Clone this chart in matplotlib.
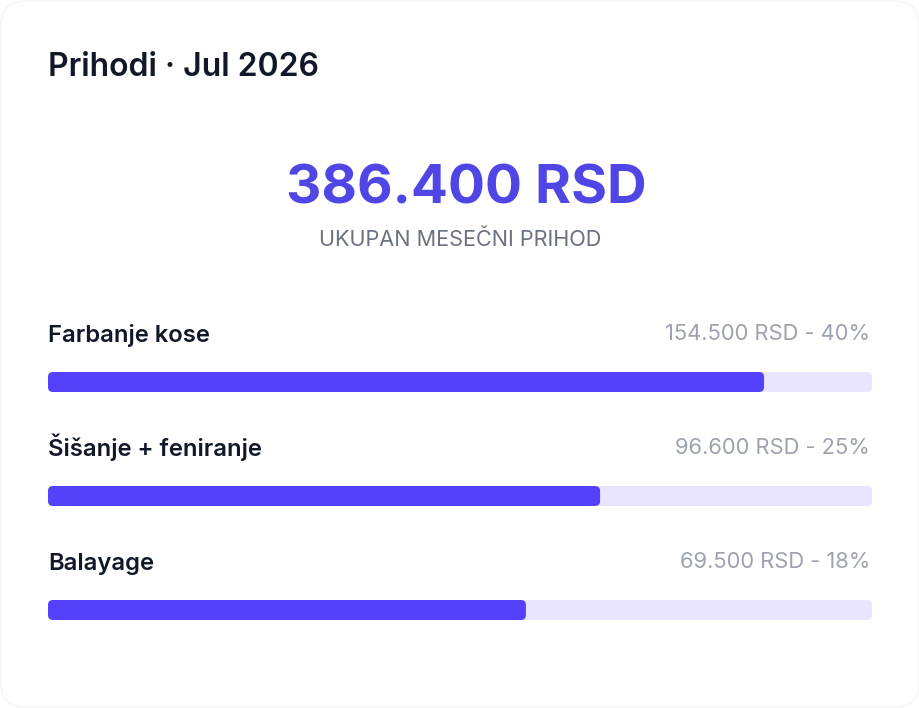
import matplotlib
matplotlib.use("Agg")
import matplotlib.pyplot as plt
from matplotlib.patches import FancyBboxPatch

# ---- data ----
title = "Prihodi · Jul 2026"
total_value = "386.400 RSD"
total_label = "UKUPAN MESEČNI PRIHOD"
categories = ["Farbanje kose", "Šišanje + feniranje", "Balayage"]
amounts = ["154.500 RSD", "96.600 RSD", "69.500 RSD"]
percents = [40, 25, 18]
fill_fractions = [0.869, 0.670, 0.580]   # bar fill

# ---- style ----
W, H = 920, 708
FONT = ["Inter", "DejaVu Sans"]
C_DARK = "#111827"
C_ACCENT = "#4F46E5"
C_SUB = "#6B7280"
C_VAL = "#9CA3AF"
C_FILL = "#5541F9"
C_TRACK = "#E9E5FE"

fig = plt.figure(figsize=(W / 100, H / 100), dpi=100)
fig.patch.set_facecolor("white")
ax = fig.add_axes([0, 0, 1, 1])
ax.set_xlim(0, W)
ax.set_ylim(H, 0)
ax.axis("off")

# card
card = FancyBboxPatch((1, 1), W - 2, H - 2, boxstyle="round,pad=0,rounding_size=24",
                      facecolor="white", edgecolor="#F2F2F2", linewidth=0.8)
ax.add_patch(card)

ax.text(48, 76, title, family=FONT, fontsize=23, fontweight="semibold",
        color=C_DARK, va="baseline", ha="left")
ax.text(466, 204, total_value, family=FONT, fontsize=39.5, fontweight="bold",
        color=C_ACCENT, va="baseline", ha="center")
ax.text(460.5, 246, total_label, family=FONT, fontsize=15.6, fontweight="normal",
        color=C_SUB, va="baseline", ha="center")

track_x0, track_x1 = 48, 872
track_w = track_x1 - track_x0
row0, row_step = 342, 114
bar_h, radius = 20, 5

for i, (cat, amt, pct, frac) in enumerate(zip(categories, amounts, percents, fill_fractions)):
    base = row0 + i * row_step
    ax.text(track_x0, base, cat, family=FONT, fontsize=17.2, fontweight="semibold",
            color=C_DARK, va="baseline", ha="left")
    ax.text(870, base - 2, f"{amt} - {pct}%", family=FONT, fontsize=15.8,
            fontweight="normal", color=C_VAL, va="baseline", ha="right")
    top = base + 30
    ax.add_patch(FancyBboxPatch((track_x0, top), track_w, bar_h,
                                boxstyle=f"round,pad=0,rounding_size={radius}",
                                facecolor=C_TRACK, edgecolor="none"))
    ax.add_patch(FancyBboxPatch((track_x0, top), track_w * frac, bar_h,
                                boxstyle=f"round,pad=0,rounding_size={radius}",
                                facecolor=C_FILL, edgecolor="none"))

fig.savefig("out.png", dpi=100, facecolor="white")
